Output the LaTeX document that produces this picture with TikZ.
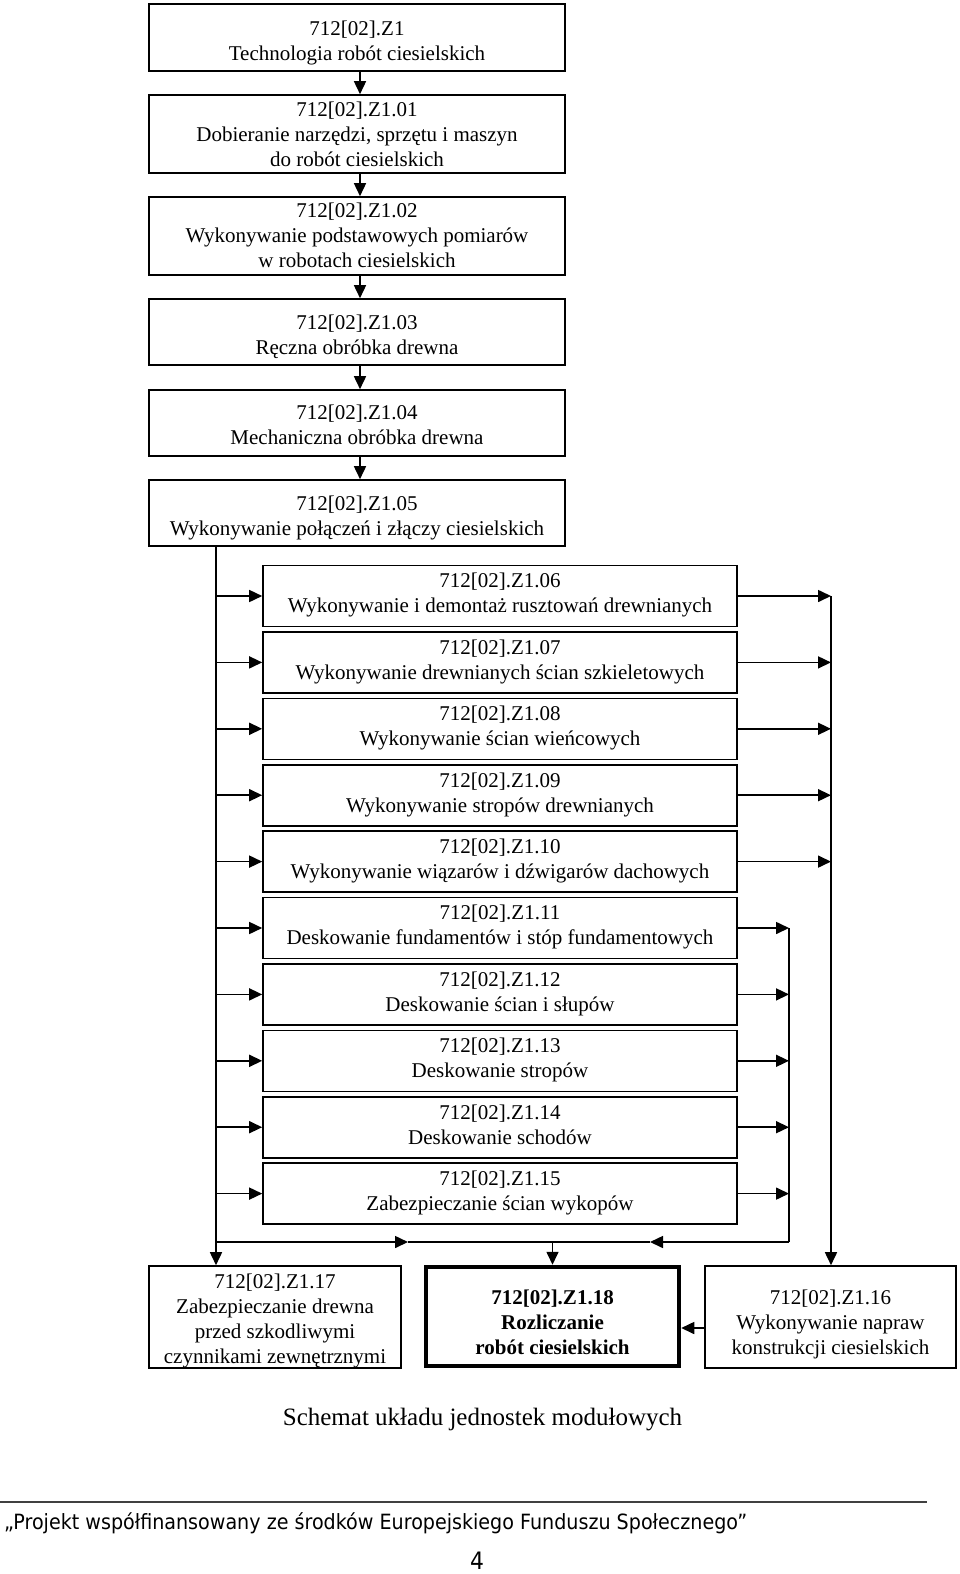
\documentclass[tikz,border=0pt]{standalone}
\usepackage{fontspec}
\setmainfont{Liberation Serif}
\newfontfamily\footfont[FakeStretch=0.91]{DejaVu Sans}
\usetikzlibrary{arrows.meta}
\begin{document}
\begin{tikzpicture}[x=1pt,y=-1pt,
  box/.style={draw, line width=1.6pt, inner sep=0pt},
  thickbox/.style={draw, line width=4.5pt, inner sep=0pt},
  txt/.style={inner sep=0pt, anchor=north, align=center, font=\fontsize{21}{25}\selectfont},
  conn/.style={line width=1.6pt},
  arr/.style={line width=1.6pt, -{Triangle[length=13pt,width=12pt]}},
]
\useasboundingbox (0,0) rectangle (960,1574);

% top column
\node[box, minimum width=416pt, minimum height=67pt] (z1) at (357,37.5) {};
\node[txt] (z1t) at (357,20.5) {712[02].Z1\\Technologia robót ciesielskich};
\node[box, minimum width=416pt, minimum height=78pt] (b01) at (357,134) {};
\node[txt] (b01t) at (357,101.3) {712[02].Z1.01\\Dobieranie narzędzi, sprzętu i maszyn\\do robót ciesielskich};
\node[box, minimum width=416pt, minimum height=78pt] (b02) at (357,236) {};
\node[txt] (b02t) at (357,202.5) {712[02].Z1.02\\Wykonywanie podstawowych pomiarów\\w robotach ciesielskich};
\node[box, minimum width=416pt, minimum height=66pt] (b03) at (357,332) {};
\node[txt] (b03t) at (357,314.5) {712[02].Z1.03\\Ręczna obróbka drewna};
\node[box, minimum width=416pt, minimum height=66pt] (b04) at (357,423) {};
\node[txt] (b04t) at (357,404.5) {712[02].Z1.04\\Mechaniczna obróbka drewna};
\node[box, minimum width=416pt, minimum height=66pt] (b05) at (357,513) {};
\node[txt] (b05t) at (357,495.5) {712[02].Z1.05\\Wykonywanie połączeń i złączy ciesielskich};

\foreach \a/\b in {z1/b01,b01/b02,b02/b03,b03/b04,b04/b05}{
  \draw[arr] (\a.south -| 360,0) -- (\b.north -| 360,0);
}

% bus coordinates
\coordinate (lbx) at (216,0);
\coordinate (ibx) at (789,0);
\coordinate (obx) at (831,0);

% middle column
\foreach \i/\c/\t in {0/06/{Wykonywanie i demontaż rusztowań drewnianych},
                      1/07/{Wykonywanie drewnianych ścian szkieletowych},
                      2/08/{Wykonywanie ścian wieńcowych},
                      3/09/{Wykonywanie stropów drewnianych},
                      4/10/{Wykonywanie wiązarów i dźwigarów dachowych},
                      5/11/{Deskowanie fundamentów i stóp fundamentowych},
                      6/12/{Deskowanie ścian i słupów},
                      7/13/{Deskowanie stropów},
                      8/14/{Deskowanie schodów},
                      9/15/{Zabezpieczanie ścian wykopów}}{
  \pgfmathsetmacro\yc{596+66.4*\i}
  \node[box, minimum width=474pt, minimum height=61pt] (b\c) at (500,\yc) {};
  \node[txt] (b\c t) at (500,\yc-22.9) {712[02].Z1.\c\\\t};
  \draw[arr] (b\c.west -| lbx) -- (b\c.west);
}
\foreach \c in {06,07,08,09,10}{
  \draw[arr] (b\c.east) -- (b\c.east -| obx);
}
\foreach \c in {11,12,13,14,15}{
  \draw[arr] (b\c.east) -- (b\c.east -| ibx);
}

% bottom row
\node[box, minimum width=252pt, minimum height=102pt] (b17) at (275,1317) {};
\node[txt] (b17t) at (275,1273.5) {712[02].Z1.17\\Zabezpieczanie drewna\\przed szkodliwymi\\czynnikami zewnętrznymi};
\node[thickbox, minimum width=253pt, minimum height=99pt] (b18) at (552.5,1316.5) {};
\node[txt, font=\fontsize{21}{25}\selectfont\bfseries] (b18t) at (552.5,1289.5) {712[02].Z1.18\\Rozliczanie\\robót ciesielskich};
\node[box, minimum width=251pt, minimum height=102pt] (b16) at (830.5,1317) {};
\node[txt] (b16t) at (830.5,1289.5) {712[02].Z1.16\\Wykonywanie napraw\\konstrukcji ciesielskich};

% left bus
\draw[arr] (b05.south -| lbx) -- (b17.north -| lbx);
% horizontal collector
\coordinate (hl) at (216,1242);
\coordinate (hr) at (789,1242);
\coordinate (ha1) at (408,1242);
\coordinate (ha2) at (650,1242);
\coordinate (hm) at (b18.north |- hl);
\draw[arr] (hl) -- (ha1);
\draw[conn] (ha1) -- (hm);
\draw[arr] (hr) -- (ha2);
\draw[conn] (ha2) -- (hm);
\draw[arr] (hm) -- (b18.north);
% inner bus
\draw[conn] (b11.east -| ibx) -- (hr);
% outer bus
\draw[arr] (b06.east -| obx) -- (b16.north -| obx);
% 16 -> 18
\coordinate (y16) at (0,1328);
\draw[arr] (b16.west |- y16) -- (b18.east |- y16);

% caption
\node[anchor=base, inner sep=0pt, font=\fontsize{25}{30}\selectfont] (cap) at (482.5,1425) {Schemat układu jednostek modułowych};

% footer
\coordinate (fl) at (0,1502);
\coordinate (fr) at (927,1502);
\draw[line width=1.2pt, black!75] (fl) -- (fr);
\node[anchor=base west, inner sep=0pt, font=\footfont\fontsize{21}{24}\selectfont] (foot) at (4,1529) {„Projekt współfinansowany ze środków Europejskiego Funduszu Społecznego”};
\node[anchor=base, inner sep=0pt, font=\footfont\fontsize{24}{28}\selectfont] (pnum) at (477,1569) {4};
\end{tikzpicture}
\end{document}
